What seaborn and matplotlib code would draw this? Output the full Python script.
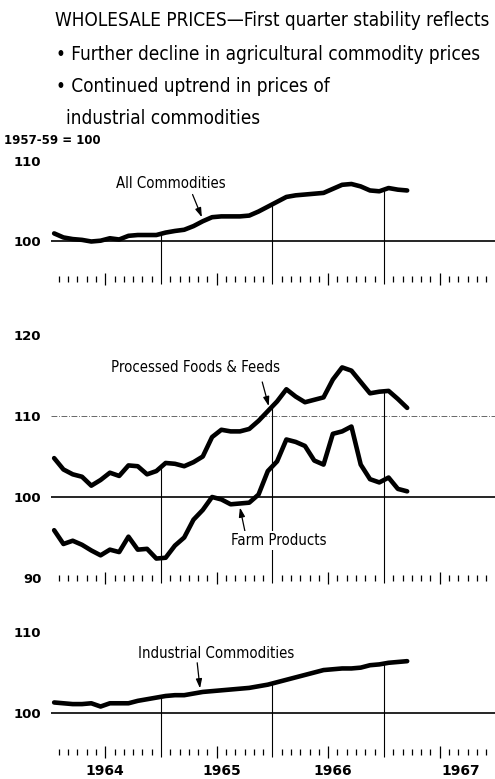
import numpy as np
import pandas as pd
import matplotlib
matplotlib.use("Agg")
import matplotlib.pyplot as plt
import seaborn as sns
from matplotlib import font_manager

# ---------------- data (1957-59 = 100), monthly Jan 1964 .. Mar 1967 ----------------
month_index = list(range(39))
all_commodities = [101.0, 100.5, 100.3, 100.2, 100.0, 100.1, 100.4, 100.25, 100.7, 100.8, 100.8, 100.8,
                   101.1, 101.3, 101.45, 101.9, 102.5, 103.0, 103.1, 103.1, 103.1, 103.2, 103.7, 104.3,
                   104.9, 105.5, 105.7, 105.8, 105.9, 106.0, 106.5, 107.0, 107.1, 106.8, 106.3, 106.2,
                   106.6, 106.4, 106.3]
processed_foods = [104.8, 103.4, 102.8, 102.5, 101.4, 102.1, 103.0, 102.6, 103.9, 103.8, 102.8, 103.2,
                   104.2, 104.1, 103.8, 104.3, 105.0, 107.4, 108.3, 108.1, 108.1, 108.4, 109.4, 110.6,
                   111.8, 113.3, 112.4, 111.7, 112.0, 112.3, 114.5, 116.0, 115.6, 114.2, 112.8, 113.0,
                   113.1, 112.1, 111.0]
farm_products = [95.9, 94.2, 94.6, 94.1, 93.4, 92.8, 93.5, 93.2, 95.1, 93.5, 93.6, 92.4,
                 92.5, 94.0, 95.0, 97.2, 98.4, 100.0, 99.7, 99.1, 99.2, 99.3, 100.3, 103.2,
                 104.4, 107.1, 106.8, 106.3, 104.5, 104.0, 107.8, 108.1, 108.7, 104.0, 102.2, 101.8,
                 102.4, 101.0, 100.7]
industrial = [101.3, 101.2, 101.1, 101.1, 101.2, 100.8, 101.2, 101.2, 101.2, 101.5, 101.7, 101.9,
              102.1, 102.2, 102.2, 102.4, 102.6, 102.7, 102.8, 102.9, 103.0, 103.1, 103.3, 103.5,
              103.8, 104.1, 104.4, 104.7, 105.0, 105.3, 105.4, 105.5, 105.5, 105.6, 105.9, 106.0,
              106.2, 106.3, 106.4]
year_labels = ["1964", "1965", "1966", "1967"]
top_yticks = [100, 110]
mid_yticks = [90, 100, 110, 120]
bot_yticks = [100, 110]

title_lines = ["WHOLESALE PRICES\u2014First quarter stability reflects",
               "\u2022 Further decline in agricultural commodity prices",
               "\u2022 Continued uptrend in prices of",
               "industrial commodities"]
base_note = "1957-59 = 100"

# ---------------- layout ----------------
W, H, DPI = 495, 779, 100
S = 8.1          # px per index point
X0, MW = 49.5, 9.29   # px of Jan 1 1964, px per month
L, R = 51, 495

sns.set_style("white")
names = {f.name for f in font_manager.fontManager.ttflist}
if "Liberation Sans Narrow" in names:
    COND, STRETCH = "Liberation Sans Narrow", "normal"
else:
    COND, STRETCH = "DejaVu Sans", "condensed"
plt.rcParams["font.family"] = ["DejaVu Sans"]
plt.rcParams["text.color"] = "black"
plt.rcParams["ytick.color"] = "black"
plt.rcParams["xtick.color"] = "black"
plt.rcParams["ytick.labelcolor"] = "black"

fig = plt.figure(figsize=(W / DPI, H / DPI), dpi=DPI)
fig.patch.set_facecolor("white")
renderer = fig.canvas.get_renderer()


def fit_size(txt, target, base=12, **kw):
    t = fig.text(0, 0, txt, fontsize=base, **kw)
    w = t.get_window_extent(renderer).width
    t.remove()
    return base * target / w


cond_kw = dict(family=[COND, "DejaVu Sans"], fontstretch=STRETCH, color="black")
title_fs = fit_size(title_lines[0], 433, **cond_kw)
ann_fs = fit_size("Processed Foods & Feeds", 170, **cond_kw)

xs = np.array(month_index) + 0.5
xlim = ((L - X0) / MW, (R - X0) / MW)
year_bounds = [12, 24, 36]
minor_ticks = [m for m in range(1, 48) if m % 6 != 0]
major_ticks = [6, 18, 30, 42]


def make_ax(y100, lo, hi):
    top_px = y100 - (hi - 100) * S
    bot_px = y100 + (100 - lo) * S
    ax = fig.add_axes([L / W, 1 - bot_px / H, (R - L) / W, (bot_px - top_px) / H])
    ax.set_xlim(*xlim)
    ax.set_ylim(lo, hi)
    for sp in ax.spines.values():
        sp.set_visible(False)
    ax.set_xticks(major_ticks)
    ax.set_xticks(minor_ticks, minor=True)
    ax.tick_params(axis="x", which="both", bottom=True, top=False, labelbottom=False)
    ax.tick_params(axis="x", which="major", direction="inout", length=8, width=0.9,
                   color="black")
    ax.tick_params(axis="x", which="minor", direction="inout", length=5, width=0.9,
                   color="black")
    ax.patch.set_alpha(0)
    return ax


def draw_series(ax, vals):
    df = pd.DataFrame({"x": xs, "v": vals})
    sns.lineplot(data=df, x="x", y="v", ax=ax, color="black", linewidth=3.3,
                 solid_joinstyle="round", solid_capstyle="round", zorder=3)
    ax.set_xlabel("")
    ax.set_ylabel("")


def year_lines(ax, vals, lo):
    tops = np.interp(year_bounds, xs, vals)
    ax.vlines(year_bounds, lo - 0.6, tops, color="black", lw=0.8, clip_on=False, zorder=2)


def yticks(ax, ticks):
    ax.set_yticks(ticks)
    ax.set_yticklabels([str(t) for t in ticks], fontweight="bold", fontsize=9.5, color="black")
    ax.tick_params(axis="y", length=0, pad=7, left=False)


def arrow(ax, tail, head):
    ax.annotate("", xy=head, xytext=tail,
                arrowprops=dict(arrowstyle="-|>,head_length=0.55,head_width=0.18",
                                lw=0.9, color="black", shrinkA=0, shrinkB=0))


# ---------------- top panel ----------------
ax1 = make_ax(241.5, 95.4, 110.6)
ax1.axhline(100, color="black", lw=1.2, zorder=1)
draw_series(ax1, all_commodities)
year_lines(ax1, all_commodities, 95.4)
yticks(ax1, top_yticks)
ax1.text(13.1, 107.2, "All Commodities", ha="center", va="center", fontsize=ann_fs, **cond_kw)
arrow(ax1, (15.4, 105.8), (16.4, np.interp(16.4, xs, all_commodities) + 0.55))

# ---------------- middle panel ----------------
ax2 = make_ax(497, 90, 120.6)
ax2.axhline(100, color="black", lw=1.2, zorder=1)
ax2.axhline(110, color="0.3", lw=0.6, ls=(0, (7, 2, 1, 2)), zorder=1)
draw_series(ax2, processed_foods)
draw_series(ax2, farm_products)
year_lines(ax2, processed_foods, 90)
yticks(ax2, mid_yticks)
ax2.text(15.7, 116.0, "Processed Foods & Feeds", ha="center", va="center", fontsize=ann_fs, **cond_kw)
arrow(ax2, (22.9, 114.2), (23.6, np.interp(23.6, xs, processed_foods) + 0.5))
ax2.text(24.7, 94.6, "Farm Products", ha="center", va="center", fontsize=ann_fs, zorder=4,
         bbox=dict(facecolor="white", edgecolor="none", pad=1.5), **cond_kw)
arrow(ax2, (21.05, 95.7), (20.5, np.interp(20.5, xs, farm_products) - 0.5))

# ---------------- bottom panel ----------------
ax3 = make_ax(713, 95.2, 110.6)
ax3.axhline(100, color="black", lw=1.2, zorder=1)
draw_series(ax3, industrial)
year_lines(ax3, industrial, 95.2)
yticks(ax3, bot_yticks)
ax3.text(17.9, 107.4, "Industrial Commodities", ha="center", va="center", fontsize=ann_fs, **cond_kw)
arrow(ax3, (15.9, 106.2), (16.2, np.interp(16.2, xs, industrial) + 0.5))

# year labels
year_pos = [12 * i + 6 for i in range(4)]
year_nudge = [0.0, 0.5, 0.5, 2.3]
for lab, p, n in zip(year_labels, year_pos, year_nudge):
    fig.text((X0 + (p + n) * MW) / W, 1 - 771 / H, lab, ha="center", va="center",
             fontsize=10, fontweight="bold", color="black")

# ---------------- header text ----------------
fig.text(55 / W, 1 - 21 / H, title_lines[0], ha="left", va="center", fontsize=title_fs, **cond_kw)
fig.text(56 / W, 1 - 54 / H, title_lines[1], ha="left", va="center", fontsize=title_fs, **cond_kw)
fig.text(56 / W, 1 - 87 / H, title_lines[2], ha="left", va="center", fontsize=title_fs, **cond_kw)
fig.text(66 / W, 1 - 119 / H, title_lines[3], ha="left", va="center", fontsize=title_fs, **cond_kw)
fig.text(4 / W, 1 - 141 / H, base_note, ha="left", va="center", fontsize=8.5, fontweight="bold",
         color="black")

fig.savefig("out.png", dpi=DPI, facecolor="white")
